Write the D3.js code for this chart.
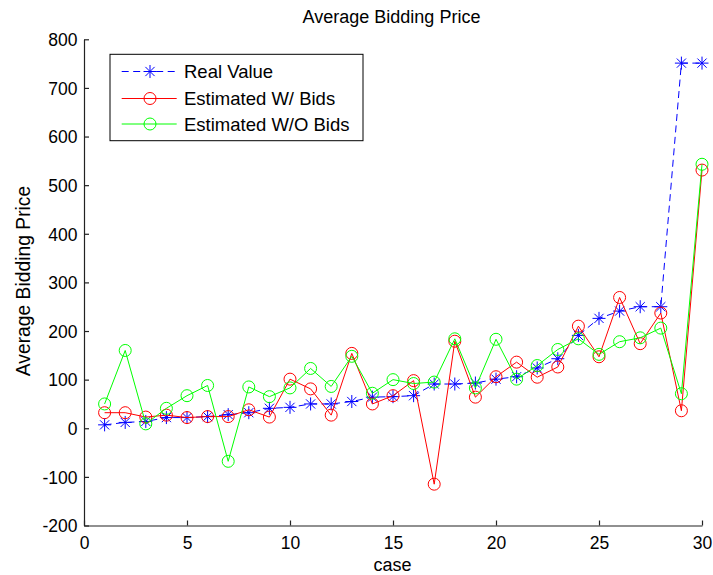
<!DOCTYPE html>
<html><head><meta charset="utf-8">
<script src="https://cdn.jsdelivr.net/npm/d3@7"></script>
<style>body{margin:0;background:#fff}svg{display:block;font-family:"Liberation Sans",Arial,sans-serif}</style>
</head><body><svg id="c" width="713" height="575"></svg>
<script>
const cases = d3.range(1, 31);
const realValue = [7,12,14,22,22,24,28,32,41,43,50,50,55,64,65,67,91,91,93,101,106,124,143,191,226,241,250,250,751,751];
const withBids = [32,32,23,27,22,24,24,38,23,101,81,27,154,50,67,98,-115,179,64,106,136,105,126,210,147,269,174,237,36,531];
const withoutBids = [50,160,9,41,67,88,-68,85,65,83,123,86,148,72,100,92,95,184,83,183,101,129,162,184,152,178,186,206,71,543];
const xTicks = [0,5,10,15,20,25,30];
const yTicks = [-200,-100,0,100,200,300,400,500,600,700,800];
const seriesNames = ["Real Value","Estimated W/ Bids","Estimated W/O Bids"];

const svg = d3.select("#c");
const L = 84, R = 702, T = 39.3, B = 525.5;
const x = d3.scaleLinear().domain([0,30]).range([L,R]);
const y = d3.scaleLinear().domain([-200,800]).range([B,T]);

const xAxis = svg.append("g").attr("transform",`translate(0,${B})`)
  .call(d3.axisBottom(x).tickValues(xTicks).tickFormat(d=>String(d)).tickSizeInner(-5).tickSizeOuter(0).tickPadding(11));
const yAxis = svg.append("g").attr("transform",`translate(${L},0)`)
  .call(d3.axisLeft(y).tickValues(yTicks).tickFormat(d=>String(d)).tickSizeInner(-5).tickSizeOuter(0).tickPadding(6.5));
[xAxis,yAxis].forEach(a=>{
  a.selectAll("path,line").attr("stroke","#222").attr("stroke-width",1.2);
  a.selectAll("text").attr("font-size",17.5).attr("fill","#000").attr("font-family","Liberation Sans, Arial, sans-serif");
});
yAxis.selectAll("text").attr("dy","0.36em");

svg.append("text").attr("x",391.5).attr("y",22.7).attr("text-anchor","middle").attr("font-size",18).text("Average Bidding Price");
svg.append("text").attr("x",392.5).attr("y",570.5).attr("text-anchor","middle").attr("font-size",18).text("case");
svg.append("text").attr("transform",`translate(30,281) rotate(-90)`).attr("text-anchor","middle").attr("font-size",19.3).text("Average Bidding Price");

const line = d3.line().x((d,i)=>x(cases[i])).y(d=>y(d));

function star(g, cx, cy, color){
  const r = 6.5, d = 4.6;
  g.append("path").attr("d",`M${cx-r},${cy}L${cx+r},${cy}M${cx},${cy-r}L${cx},${cy+r}M${cx-d},${cy-d}L${cx+d},${cy+d}M${cx-d},${cy+d}L${cx+d},${cy-d}`)
   .attr("stroke",color).attr("stroke-width",1).attr("fill","none");
}
function circ(g, cx, cy, color){
  g.append("circle").attr("cx",cx).attr("cy",cy).attr("r",6).attr("fill","none").attr("stroke",color).attr("stroke-width",1);
}

const plot = svg.append("g");
plot.append("path").datum(realValue).attr("d",line).attr("fill","none").attr("stroke","#0000ff").attr("stroke-width",1).attr("stroke-dasharray","7,4.5");
const gs = plot.append("g");
realValue.forEach((v,i)=>star(gs,x(cases[i]),y(v),"#0000ff"));
plot.append("path").datum(withBids).attr("d",line).attr("fill","none").attr("stroke","#ff0000").attr("stroke-width",1);
const gr = plot.append("g");
withBids.forEach((v,i)=>circ(gr,x(cases[i]),y(v),"#ff0000"));
plot.append("path").datum(withoutBids).attr("d",line).attr("fill","none").attr("stroke","#00ff00").attr("stroke-width",1);
const gg = plot.append("g");
withoutBids.forEach((v,i)=>circ(gg,x(cases[i]),y(v),"#00ff00"));

const lg = svg.append("g");
lg.append("rect").attr("x",110).attr("y",54.3).attr("width",253).attr("height",86.4).attr("fill","#fff").attr("stroke","#000").attr("stroke-width",1);
const colors = ["#0000ff","#ff0000","#00ff00"];
const rows = [71.5, 98.5, 124];
seriesNames.forEach((n,i)=>{
  const ly = rows[i];
  const l = lg.append("line").attr("x1",121.7).attr("x2",176.7).attr("y1",ly).attr("y2",ly).attr("stroke",colors[i]).attr("stroke-width",1);
  if(i===0){ l.attr("stroke-dasharray","7,4.5"); star(lg,150,ly,colors[i]); }
  else circ(lg,150,ly,colors[i]);
  lg.append("text").attr("x",184).attr("y",ly).attr("dy","0.36em").attr("font-size",18.5).text(n);
});
</script></body></html>
